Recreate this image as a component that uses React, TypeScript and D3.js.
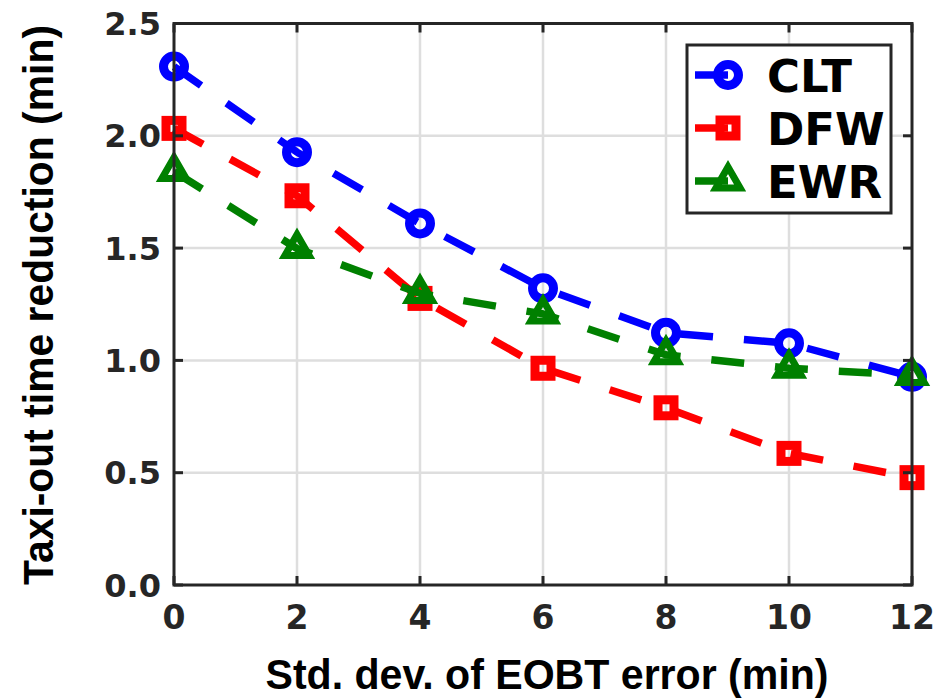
import React from "react";
import * as d3 from "d3";

const xValues = [0, 2, 4, 6, 8, 10, 12];
const clt = [2.308, 1.927, 1.61, 1.321, 1.123, 1.076, 0.927];
const dfw = [2.033, 1.733, 1.276, 0.965, 0.789, 0.586, 0.478];
const ewr = [1.841, 1.498, 1.298, 1.207, 1.025, 0.965, 0.933];
const xTicks = [0, 2, 4, 6, 8, 10, 12];
const yTicks = [0, 0.5, 1.0, 1.5, 2.0, 2.5];
const seriesNames = ["CLT", "DFW", "EWR"];
const seriesColors = ["#0000ff", "#ff0000", "#008000"];
const seriesMarkers = ["circle", "square", "triangle"];
const xLabel = "Std. dev. of EOBT error (min)";
const yLabel = "Taxi-out time reduction (min)";

const W = 945;
const H = 699;
const L = 174, R = 912, T = 23.5, B = 585;

function Marker({ kind, cx, cy, color }: { kind: string; cx: number; cy: number; color: string }) {
  if (kind === "circle") {
    return <circle cx={cx} cy={cy} r={10.5} fill="none" stroke={color} strokeWidth={9} />;
  }
  if (kind === "square") {
    const s = 16;
    return <rect x={cx - s / 2} y={cy - s / 2} width={s} height={s} fill="none" stroke={color} strokeWidth={9} />;
  }
  const r = 14;
  const pts = [
    [cx, cy - r],
    [cx + r * 0.866, cy + r / 2],
    [cx - r * 0.866, cy + r / 2],
  ];
  return (
    <polygon
      points={pts.map((p) => p.join(",")).join(" ")}
      fill="none"
      stroke={color}
      strokeWidth={7}
      strokeLinejoin="miter"
    />
  );
}

export default function App() {
  const x = d3.scaleLinear().domain([0, 12]).range([L, R]);
  const y = d3.scaleLinear().domain([0, 2.5]).range([B, T]);
  const data = [clt, dfw, ewr];
  const line = d3
    .line<number>()
    .x((_, i) => x(xValues[i]))
    .y((d) => y(d));
  const axisColor = "#262626";
  const tickFont = "'DejaVu Sans', sans-serif";
  const titleFont = "'Liberation Sans', Arial, sans-serif";
  const legendRows = [75, 128, 181];

  return (
    <svg width={W} height={H} style={{ position: "absolute", left: 0, top: 0, background: "#fff" }}>
      <rect x={0} y={0} width={W} height={H} fill="#fff" />
      {/* grid */}
      {xTicks
        .filter((t) => t !== 0 && t !== 12)
        .map((t) => (
          <line key={"gx" + t} x1={x(t)} x2={x(t)} y1={T} y2={B} stroke="#dedede" strokeWidth={2.5} />
        ))}
      {yTicks
        .filter((t) => t !== 0 && t !== 2.5)
        .map((t) => (
          <line key={"gy" + t} x1={L} x2={R} y1={y(t)} y2={y(t)} stroke="#dedede" strokeWidth={2.5} />
        ))}
      {/* series */}
      {data.map((vals, si) => (
        <g key={seriesNames[si]}>
          <path
            d={line(vals) || ""}
            fill="none"
            stroke={seriesColors[si]}
            strokeWidth={7.5}
            strokeDasharray="33 31"
            strokeLinecap="butt"
          />
          {vals.map((v, i) => (
            <Marker key={i} kind={seriesMarkers[si]} cx={x(xValues[i])} cy={y(v)} color={seriesColors[si]} />
          ))}
        </g>
      ))}
      {/* axes box */}
      <rect x={L} y={T} width={R - L} height={B - T} fill="none" stroke={axisColor} strokeWidth={3} />
      {xTicks.map((t) => (
        <g key={"xt" + t}>
          <line x1={x(t)} x2={x(t)} y1={B} y2={B - 9} stroke={axisColor} strokeWidth={3} />
          <line x1={x(t)} x2={x(t)} y1={T} y2={T + 9} stroke={axisColor} strokeWidth={3} />
          <text
            x={x(t)}
            y={629}
            textAnchor="middle"
            fontFamily={tickFont}
            fontWeight="bold"
            fontSize={33}
            fill={axisColor}
          >
            {t}
          </text>
        </g>
      ))}
      {yTicks.map((t) => (
        <g key={"yt" + t}>
          <line x1={L} x2={L + 9} y1={y(t)} y2={y(t)} stroke={axisColor} strokeWidth={3} />
          <line x1={R} x2={R - 9} y1={y(t)} y2={y(t)} stroke={axisColor} strokeWidth={3} />
          <text
            x={161}
            y={y(t) + 11.5}
            textAnchor="end"
            fontFamily={tickFont}
            fontWeight="bold"
            fontSize={32}
            fill={axisColor}
          >
            {t.toFixed(1)}
          </text>
        </g>
      ))}
      {/* axis titles */}
      <text
        x={547}
        y={689}
        textAnchor="middle"
        fontFamily={titleFont}
        fontWeight="bold"
        fontSize={42}
        fill="#000"
        textLength={563}
        lengthAdjust="spacingAndGlyphs"
      >
        {xLabel}
      </text>
      <text
        transform={`translate(53,305) rotate(-90)`}
        textAnchor="middle"
        fontFamily={titleFont}
        fontWeight="bold"
        fontSize={42}
        fill="#000"
        textLength={560}
        lengthAdjust="spacingAndGlyphs"
      >
        {yLabel}
      </text>
      {/* legend */}
      <rect x={687} y={45} width={204} height={168} fill="#fff" stroke={axisColor} strokeWidth={3} />
      {seriesNames.map((name, si) => (
        <g key={"lg" + name}>
          <line x1={695} x2={728} y1={legendRows[si]} y2={legendRows[si]} stroke={seriesColors[si]} strokeWidth={7.5} />
          <Marker kind={seriesMarkers[si]} cx={728} cy={legendRows[si]} color={seriesColors[si]} />
          <text
            x={767}
            y={legendRows[si] + 16.5}
            fontFamily={tickFont}
            fontWeight="bold"
            fontSize={45}
            fill="#000"
          >
            {name}
          </text>
        </g>
      ))}
    </svg>
  );
}
